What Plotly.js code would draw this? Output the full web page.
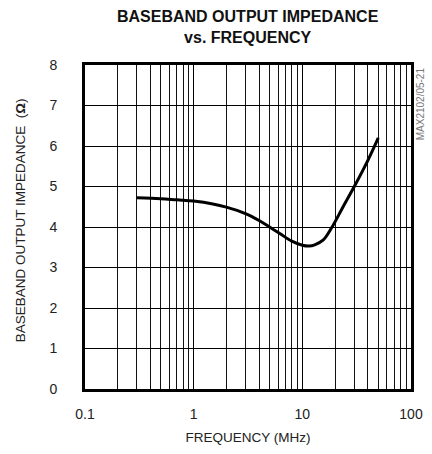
<!DOCTYPE html>
<html>
<head>
<meta charset="utf-8">
<script src="https://cdn.plot.ly/plotly-3.0.1.min.js"></script>
<style>html,body{margin:0;padding:0;background:#fff;}#chart{width:432px;height:454px;}</style>
</head>
<body>
<div id="chart"></div>
<script>
// Data
const freqMHz = [0.3, 0.5, 0.7, 1, 1.5, 2, 3, 4, 5, 6.2, 8, 10, 11.5, 13, 15.6, 18.6, 23.4, 30.5, 40, 50];
const impedanceOhm = [4.72, 4.70, 4.67, 4.64, 4.57, 4.49, 4.33, 4.16, 4.0, 3.84, 3.65, 3.55, 3.53, 3.56, 3.68, 3.98, 4.47, 5.03, 5.64, 6.2];
const xTickVals = [0.1, 1, 10, 100];
const xTickText = ['0.1', '1', '10', '100'];
const yTickVals = [0, 1, 2, 3, 4, 5, 6, 7, 8];

const minorVals = [];
[0.1, 1, 10].forEach(d => { for (let k = 2; k <= 9; k++) minorVals.push(+(d * k).toPrecision(3)); });

const FONT = '"Liberation Sans Narrow", "Arial Narrow", "Liberation Sans", sans-serif';

const trace = {
  x: freqMHz, y: impedanceOhm, type: 'scatter', mode: 'lines',
  line: {color: '#000', width: 3, shape: 'spline', smoothing: 1},
  hoverinfo: 'skip'
};

const layout = {
  width: 432, height: 454,
  margin: {l: 85, r: 21, t: 65, b: 65},
  paper_bgcolor: '#fff', plot_bgcolor: '#fff',
  showlegend: false,
  font: {family: FONT, color: '#222', size: 14},
  xaxis: {
    type: 'log', range: [-1, 2],
    tickmode: 'array', tickvals: xTickVals, ticktext: xTickText,
    ticks: '', ticklabelstandoff: 10,
    showgrid: true, gridcolor: '#000', gridwidth: 1,
    minor: {tickmode: 'array', tickvals: minorVals, showgrid: true, gridcolor: '#111', gridwidth: 1, ticks: ''},
    showline: true, linecolor: '#000', linewidth: 3, mirror: true,
    zeroline: false,
    tickfont: {family: FONT, size: 14, color: '#222'},
    title: {text: 'FREQUENCY (MHz)', font: {family: FONT, size: 13.5, color: '#222'}, standoff: 12}
  },
  yaxis: {
    range: [0, 8], tickmode: 'array', tickvals: yTickVals,
    ticks: '', ticklabelstandoff: 22,
    showgrid: true, gridcolor: '#000', gridwidth: 1,
    showline: true, linecolor: '#000', linewidth: 3, mirror: true,
    zeroline: false,
    tickfont: {family: FONT, size: 14, color: '#222'}
  },
  annotations: [
    {text: '<b>BASEBAND OUTPUT IMPEDANCE<br>vs. FREQUENCY</b>', xref: 'paper', yref: 'paper',
     x: 0.5, y: 1.052, xanchor: 'center', yanchor: 'bottom', showarrow: false,
     font: {family: FONT, size: 16, color: '#111'}},
    {text: 'BASEBAND OUTPUT IMPEDANCE  (<b>Ω</b>)', textangle: -90, xref: 'paper', yref: 'paper',
     x: -0.197, y: 0.52, xanchor: 'center', yanchor: 'middle', showarrow: false,
     font: {family: FONT, size: 13.5, color: '#222'}},
    {text: 'MAX2102/05-21', textangle: -90, xref: 'paper', yref: 'paper',
     x: 1.03, y: 1.0, xanchor: 'center', yanchor: 'top', showarrow: false,
     font: {family: FONT, size: 10, color: '#777'}}
  ]
};

Plotly.newPlot('chart', [trace], layout, {staticPlot: true, displayModeBar: false});
</script>
</body>
</html>
